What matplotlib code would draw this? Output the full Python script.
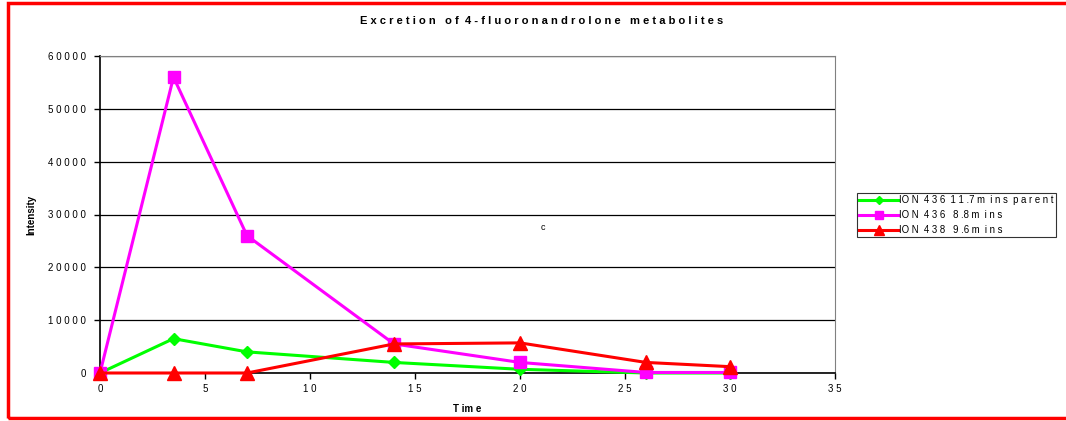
import matplotlib
matplotlib.use("Agg")
import matplotlib.pyplot as plt
from matplotlib.patches import Rectangle

# Sampling times (hours) and measured intensities
time = [0, 3.5, 7, 14, 20, 26, 30]
ion436_parent = [0, 6500, 4000, 2000, 700, 0, 0]
ion436_88 = [0, 56000, 26000, 5500, 2000, 100, 100]
ion438_96 = [0, 0, 0, 5500, 5700, 2000, 1200]

series_labels = ["IO N  4 3 6  1 1 .7 m  i n s  p a r e n t",
                 "IO N  4 3 6   8 .8 m  i n s",
                 "IO N  4 3 8   9 .6 m  i n s"]
x_ticks = [0, 5, 10, 15, 20, 25, 30, 35]
y_ticks = [0, 10000, 20000, 30000, 40000, 50000, 60000]

plt.rcParams["font.family"] = ["Liberation Sans", "DejaVu Sans"]

fig = plt.figure(figsize=(10.66, 4.21), dpi=100)
ax = fig.add_axes([100 / 1066, 1 - 373 / 421, 735 / 1066, 317 / 421])

ax.plot(time, ion436_parent, color="#00ff00", lw=2.2, marker="D", ms=6,
        label=series_labels[0], zorder=3, clip_on=False)
ax.plot(time, ion436_88, color="#ff00ff", lw=2.2, marker="s", ms=9,
        label=series_labels[1], zorder=4, clip_on=False)
ax.plot(time, ion438_96, color="#ff0000", lw=2.2, marker="^", ms=10,
        label=series_labels[2], zorder=5, clip_on=False)

ax.set_xlim(0, 35)
ax.set_ylim(0, 60000)
ax.set_xticks(x_ticks)
ax.set_yticks(y_ticks)
ax.set_xticklabels([" ".join(str(t)) for t in x_ticks], fontsize=7)
ax.set_yticklabels([" ".join(str(t)) for t in y_ticks], fontsize=7)
ax.tick_params(axis="x", direction="out", length=4, width=1, pad=4)
ax.tick_params(axis="y", direction="out", length=4, width=1, pad=6)
ax.yaxis.grid(True, color="black", lw=0.9)
ax.set_axisbelow(True)
for s in ["top", "right"]:
    ax.spines[s].set_color("#808080")
for s in ["left", "bottom"]:
    ax.spines[s].set_color("black")
    ax.spines[s].set_linewidth(1.2)

ax.set_xlabel("T im e", fontsize=7, fontweight="bold")
ax.xaxis.set_label_coords(367 / 735, -31 / 317)
ax.set_ylabel("Intensity", fontsize=7, fontweight="bold")
ax.yaxis.set_label_coords(-64 / 735, 0.5)

fig.text(542 / 1066, 1 - 21 / 421,
         "E x c r e t i o n   o f  4 - f l u o r o n a n d r o l o n e   m e t a b o l i t e s",
         ha="center", va="center", fontsize=8, fontweight="bold")
fig.text(543 / 1066, 1 - 227 / 421, "c", ha="center", va="center", fontsize=6.5)

leg = fig.legend(loc="upper left", bbox_to_anchor=(857 / 1066, 1 - 193 / 421),
                 fontsize=6.9, frameon=True, fancybox=False, borderpad=0.25,
                 labelspacing=0.5, handlelength=4, handletextpad=0.1,
                 borderaxespad=0, markerscale=0.7)
leg.get_frame().set_edgecolor("black")
leg.get_frame().set_linewidth(0.8)

fig.patches.append(Rectangle((8 / 1066, 3 / 421), 1.2, 415 / 421, transform=fig.transFigure,
                             fill=False, edgecolor="#ff0000", lw=2.5, clip_on=False))

fig.savefig("out.png", dpi=100)
